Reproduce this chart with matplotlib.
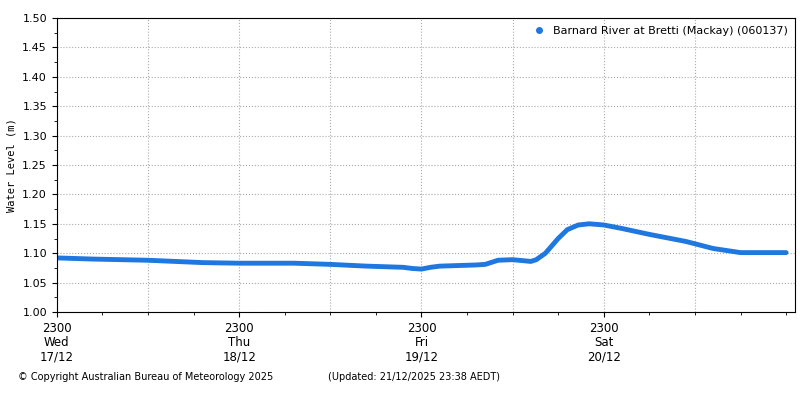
import matplotlib
matplotlib.use("Agg")
import matplotlib.pyplot as plt
import numpy as np

# days since 2300 Wed 17/12
t = [0.0, 0.2, 0.5, 0.8, 1.0, 1.3, 1.5, 1.7, 1.9, 1.95, 2.0, 2.05, 2.1, 2.3, 2.35, 2.42, 2.5, 2.6, 2.63, 2.68, 2.75, 2.8, 2.86, 2.92, 3.0, 3.1, 3.25, 3.45, 3.6, 3.75, 3.9, 4.0]
level = [1.092, 1.090, 1.088, 1.084, 1.083, 1.083, 1.081, 1.078, 1.076, 1.074, 1.073, 1.076, 1.078, 1.080, 1.081, 1.088, 1.089, 1.086, 1.089, 1.100, 1.125, 1.140, 1.148, 1.150, 1.148, 1.142, 1.132, 1.120, 1.108, 1.101, 1.101, 1.101]
tick_labels = ["2300\nWed\n17/12", "2300\nThu\n18/12", "2300\nFri\n19/12", "2300\nSat\n20/12"]
series_name = "Barnard River at Bretti (Mackay) (060137)"

fig = plt.figure(figsize=(8, 4), dpi=100)
ax = fig.add_axes([0.071, 0.22, 0.923, 0.735])
tt = np.array(t); ll = np.array(level)
ax.plot(tt, ll, color="#1f77e0", lw=3.5, solid_capstyle="round")
ax.plot([], [], "o", color="#1f77e0", ms=4, label=series_name)
ax.set_xlim(0, 4.05)
ax.set_ylim(1.0, 1.5)
yt = np.arange(1.0, 1.501, 0.05)
ax.set_yticks(yt)
ax.set_yticklabels([f"{v:.2f}" for v in yt], fontsize=8)
ax.set_xticks([0, 1, 2, 3])
ax.set_xticklabels(tick_labels, fontsize=8.5, linespacing=1.15)
ax.set_xticks([0.25, 0.5, 0.75, 1.25, 1.5, 1.75, 2.25, 2.5, 2.75, 3.25, 3.5, 3.75, 4.0], minor=True)
ax.set_yticks(np.arange(1.0, 1.5, 0.025), minor=True)
ax.grid(True, which="major", ls=":", color="#aaaaaa", lw=0.8)
for v in [0.5, 1.5, 2.5, 3.5]:
    ax.axvline(v, ls=":", color="#aaaaaa", lw=0.8, zorder=0)
ax.set_ylabel("Water Level (m)", fontsize=7.5, family="DejaVu Sans Mono")
ax.legend(loc="upper right", frameon=False, fontsize=8, handletextpad=0.2, borderaxespad=0.3)
fig.text(0.022, 0.05, "© Copyright Australian Bureau of Meteorology 2025", fontsize=7)
fig.text(0.41, 0.05, "(Updated: 21/12/2025 23:38 AEDT)", fontsize=7)
fig.savefig("out.png")
